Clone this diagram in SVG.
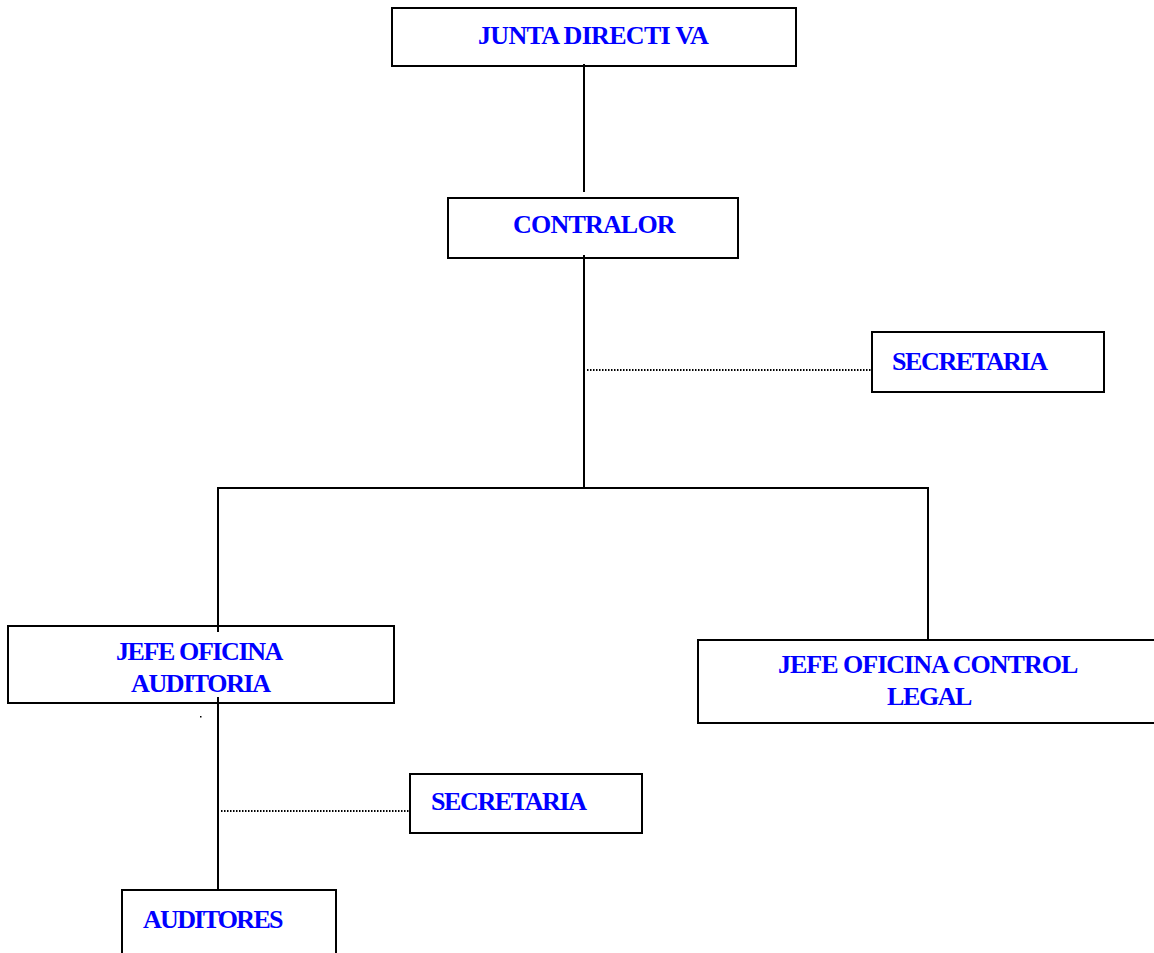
<svg xmlns="http://www.w3.org/2000/svg" width="1154" height="953" viewBox="0 0 1154 953">
<style>
.box{fill:#fff;stroke:#000;stroke-width:2}
.t{font-family:"Liberation Serif","Times New Roman",serif;font-weight:bold;font-size:26px;fill:#0000ff;letter-spacing:-1.4px}
.ln{stroke:#000;stroke-width:2;fill:none}
.dot{stroke:#000;stroke-width:2;stroke-dasharray:1.5 1.5;fill:none}
</style>
<rect width="1154" height="953" fill="#fff"/>
<g id="junta"><rect class="box" x="392" y="8" width="404" height="58"/><text class="t" x="478" y="44" style="letter-spacing:-0.7px">JUNTA DIRECTI VA</text></g>
<g id="contralor"><rect class="box" x="448" y="198" width="290" height="60"/><text class="t" x="513" y="233" style="letter-spacing:-0.8px">CONTRALOR</text></g>
<g id="secretaria1"><rect class="box" x="872" y="332" width="232" height="60"/><text class="t" x="892" y="370">SECRETARIA</text></g>
<g id="jefe-auditoria"><rect class="box" x="8" y="626" width="386" height="77"/><text class="t" x="116" y="660">JEFE OFICINA</text><text class="t" x="131" y="692">AUDITORIA</text><rect x="200" y="716" width="1.5" height="1.5" fill="#000"/></g>
<g id="jefe-control"><rect class="box" x="698" y="640" width="470" height="83"/><text class="t" x="778" y="673" style="letter-spacing:-1px">JEFE OFICINA CONTROL</text><text class="t" x="887" y="705">LEGAL</text></g>
<g id="secretaria2"><rect class="box" x="410" y="774" width="232" height="59"/><text class="t" x="431" y="810">SECRETARIA</text></g>
<g id="auditores"><rect class="box" x="122" y="890" width="214" height="80"/><text class="t" x="143" y="928" style="letter-spacing:-1.7px">AUDITORES</text></g>
<g id="connectors">
<line class="ln" x1="584" y1="64" x2="584" y2="192"/>
<line class="ln" x1="584" y1="255" x2="584" y2="488"/>
<polyline class="ln" points="218,632 218,488 928,488 928,640"/>
<line class="ln" x1="218" y1="697" x2="218" y2="890"/>
<line class="dot" x1="587" y1="370" x2="871" y2="370"/>
<line class="dot" x1="221" y1="811" x2="409" y2="811"/>
</g>
</svg>
